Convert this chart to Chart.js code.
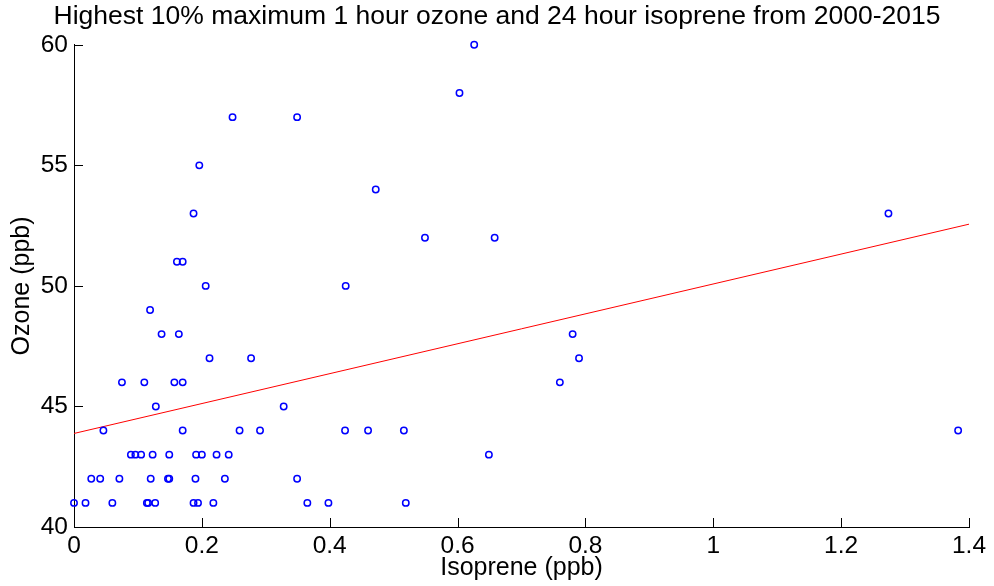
<!DOCTYPE html>
<html>
<head>
<meta charset="utf-8">
<script src="https://cdn.jsdelivr.net/npm/chart.js@4/dist/chart.umd.min.js"></script>
<style>
  html, body { margin: 0; padding: 0; background: #fff; }
  #wrap { width: 994px; height: 586px; }
</style>
</head>
<body>
<div id="wrap"><canvas id="chart" width="994" height="586"></canvas></div>
<script>
// --- DATA ---
const isoprene = [
  0.248, 0.349, 0.196, 0.187, 0.161, 0.170, 0.206, 0.119, 0.137, 0.164,
  0.212, 0.277, 0.075, 0.110, 0.157, 0.170, 0.128, 0.328, 0.046, 0.170,
  0.259, 0.291,
  0.089, 0.096, 0.105, 0.123, 0.149, 0.191, 0.200, 0.223, 0.242,
  0.027, 0.041, 0.071, 0.120, 0.147, 0.149, 0.190, 0.236, 0.349,
  0.000, 0.018, 0.060, 0.114, 0.116, 0.127, 0.187, 0.194, 0.218, 0.365,
  0.626, 0.603, 0.472, 0.549, 0.658, 0.425, 0.780, 0.790, 0.760, 0.424,
  0.460, 0.516, 0.649, 0.398, 0.519, 1.274, 1.383
];
const ozone = [
  57, 57, 55, 53, 51, 51, 50, 49, 48, 48,
  47, 47, 46, 46, 46, 46, 45, 45, 44, 44,
  44, 44,
  43, 43, 43, 43, 43, 43, 43, 43, 43,
  42, 42, 42, 42, 42, 42, 42, 42, 42,
  41, 41, 41, 41, 41, 41, 41, 41, 41, 41,
  60, 58, 54, 52, 52, 50, 48, 47, 46, 44,
  44, 44, 43, 41, 41, 53, 44
];

// fitted line, ends
const fitX = [0, 1.4];
const fitY = [43.88, 52.56];

const xTicks = [0, 0.2, 0.4, 0.6, 0.8, 1, 1.2, 1.4];
const yTicks = [40, 45, 50, 55, 60];

const FONT = 'Liberation Sans, Arial, Helvetica, sans-serif';

// MATLAB style ticks pointing into the plot
const innerTicks = {
  id: 'innerTicks',
  afterDraw(chart) {
    const { ctx, chartArea: a, scales: { x, y } } = chart;
    ctx.save();
    ctx.strokeStyle = '#000';
    ctx.lineWidth = 1;
    ctx.beginPath();
    xTicks.forEach(v => {
      const px = Math.round(x.getPixelForValue(v)) + 0.5;
      ctx.moveTo(px, a.bottom);
      ctx.lineTo(px, a.bottom - 9);
    });
    yTicks.forEach(v => {
      const py = Math.round(y.getPixelForValue(v)) + 0.5;
      ctx.moveTo(a.left, py);
      ctx.lineTo(a.left + 9, py);
    });
    ctx.stroke();
    ctx.restore();
  }
};

const ctx = document.getElementById('chart').getContext('2d');

new Chart(ctx, {
  type: 'scatter',
  data: {
    datasets: [
      {
        label: 'data',
        data: isoprene.map((v, i) => ({ x: v, y: ozone[i] })),
        pointStyle: 'circle',
        pointRadius: 3.2,
        pointBorderWidth: 1.5,
        borderColor: '#0000ff',
        backgroundColor: 'rgba(0,0,0,0)',
        clip: false
      },
      {
        type: 'line',
        label: 'fit',
        data: fitX.map((v, i) => ({ x: v, y: fitY[i] })),
        borderColor: '#ff0000',
        borderWidth: 1,
        pointRadius: 0,
        fill: false
      }
    ]
  },
  options: {
    responsive: false,
    animation: false,
    events: [],
    layout: { padding: 0 },
    plugins: {
      legend: { display: false },
      tooltip: { enabled: false },
      title: {
        display: true,
        text: 'Highest 10% maximum 1 hour ozone and 24 hour isoprene from 2000-2015',
        color: '#000',
        font: { family: FONT, size: 26.5, weight: 'normal' },
        padding: { top: 1, bottom: 12 }
      }
    },
    scales: {
      x: {
        type: 'linear',
        min: 0, max: 1.4,
        afterFit(s) { s.height = 59; },
        afterBuildTicks(s) { s.ticks = xTicks.map(v => ({ value: v })); },
        border: { display: true, color: '#000', width: 1 },
        grid: { display: true, drawOnChartArea: false, drawTicks: false },
        ticks: {
          color: '#000', padding: 5, maxRotation: 0,
          font: { family: FONT, size: 24.5 },
          callback: v => String(+v.toFixed(1))
        },
        title: {
          display: true, text: 'Isoprene (ppb)', color: '#000',
          font: { family: FONT, size: 25 }, padding: 3
        }
      },
      y: {
        type: 'linear',
        min: 40, max: 60,
        afterFit(s) { s.width = 74; },
        afterBuildTicks(s) { s.ticks = yTicks.map(v => ({ value: v })); },
        border: { display: true, color: '#000', width: 1 },
        grid: { display: true, drawOnChartArea: false, drawTicks: false },
        ticks: {
          color: '#000', padding: 6,
          font: { family: FONT, size: 24.5 }
        },
        title: {
          display: true, text: 'Ozone (ppb)', color: '#000',
          font: { family: FONT, size: 25 }, padding: 7
        }
      },
      // empty right margin so the title centres on the whole figure
      pad: {
        type: 'linear',
        position: 'right',
        display: true,
        afterFit(s) { s.width = 25; },
        border: { display: false },
        grid: { display: false },
        ticks: { display: false }
      }
    }
  },
  plugins: [innerTicks]
});
</script>
</body>
</html>
